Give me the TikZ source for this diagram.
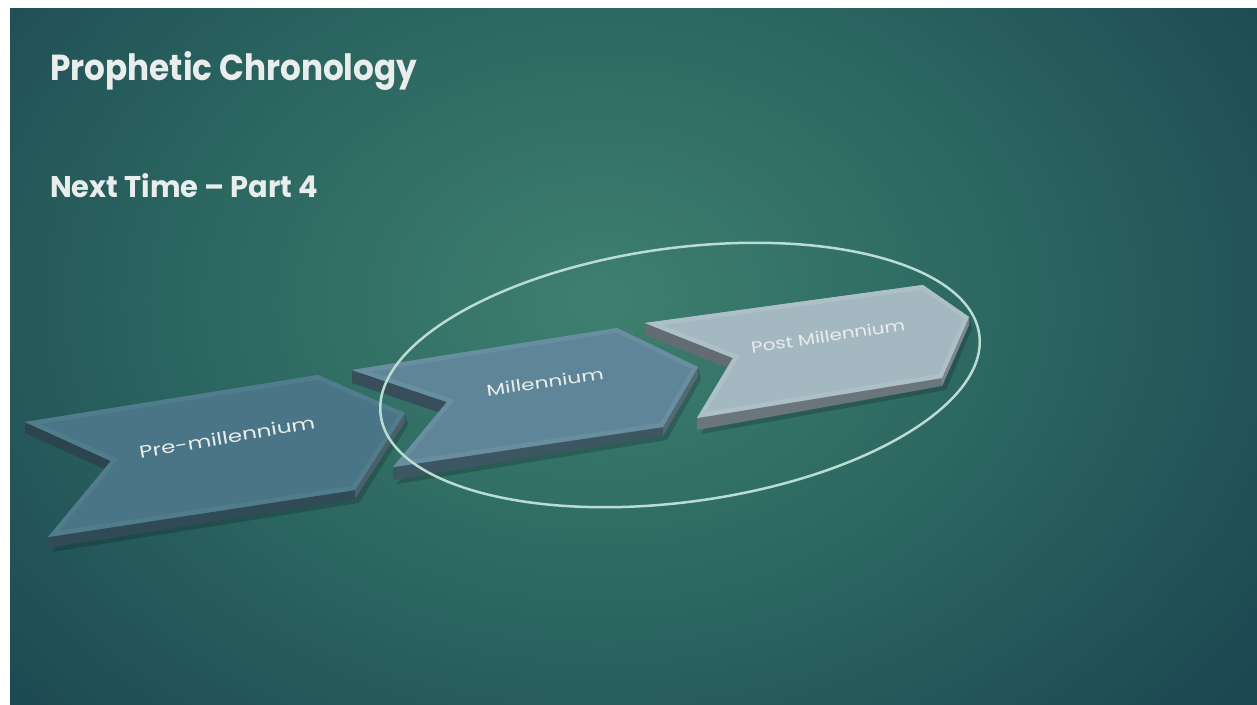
\documentclass[tikz,border=0pt]{standalone}
\usepackage{fontspec}
\setmainfont{Poppins}
\usepackage{graphicx}
\usetikzlibrary{calc}
\definecolor{bgin}{RGB}{62,128,111}
\definecolor{bgmid}{RGB}{42,100,96}
\definecolor{bgout}{RGB}{22,58,74}
\definecolor{titlec}{RGB}{233,237,236}
\definecolor{pretop}{RGB}{74,117,134}
\definecolor{preside}{RGB}{48,74,86}
\definecolor{prenotch}{RGB}{44,68,78}
\definecolor{prerim}{RGB}{80,124,140}
\definecolor{miltop}{RGB}{95,134,152}
\definecolor{milside}{RGB}{60,86,98}
\definecolor{milnotch}{RGB}{56,78,90}
\definecolor{milrim}{RGB}{104,142,159}
\definecolor{posttop}{RGB}{163,184,193}
\definecolor{postside}{RGB}{106,118,124}
\definecolor{postnotch}{RGB}{98,108,114}
\definecolor{postrim}{RGB}{173,192,200}
\definecolor{ringc}{RGB}{185,220,212}
\pgfdeclareradialshading{bgshade}{\pgfpoint{0bp}{0bp}}{color(0bp)=(bgin); color(11bp)=(bgmid); color(25bp)=(bgout); color(50bp)=(bgout)}
\newcommand\drawchev[4]{%
  \fill[black,opacity=0.18] ($(F)+(4,\thkL+3)$) -- ($(E)+(4,\thkL+4)$) -- ($(D)+(4,\thkR+4)$) -- ($(C)+(3,\thkR+3)$) -- (C) -- (D) -- (E) -- cycle;
  \fill[#3] (A) -- (F) -- ($(F)+(0,\thkL)$) -- ($(A)+(0,\thkL)$) -- cycle;
  \fill[#2] (C) -- (D) -- (E) -- ($(E)+(0,\thkL)$) -- ($(D)+(0,\thkR)$) -- ($(C)+(0,\thkR)$) -- cycle;
  \fill[#2!88!white] (C) -- (D) -- ($(D)+(0,\thkR)$) -- ($(C)+(0,\thkR)$) -- cycle;
  \begin{scope}
    \clip (A) -- (B) -- (C) -- (D) -- (E) -- (F) -- cycle;
    \fill[#1] (A) -- (B) -- (C) -- (D) -- (E) -- (F) -- cycle;
    \draw[#4, line width=9pt, line join=miter] (A) -- (B) -- (C) -- (D) -- (E) -- (F) -- cycle;
  \end{scope}
}
\tikzset{
  lbl/.style={inner sep=0pt, text=titlec},
  ttl/.style={inner sep=0pt, anchor=base west, text=titlec, font=\bfseries},
  ring/.style={draw=ringc, line width=2.5pt}
}
\begin{document}
\begin{tikzpicture}[x=1pt,y=-1pt]
\useasboundingbox (0,0) rectangle (1257,704);
\fill[white] (0,0) rectangle (1257,704);
\begin{scope}
  \clip (10,8) rectangle (1257,704);
  \fill[bgout] (10,8) rectangle (1257,704);
  \shade[shading=bgshade] (600,300) ellipse [x radius=1000, y radius=760];
\end{scope}

% titles
\node[ttl] (title) at (50,80) {\resizebox{367pt}{29pt}{Prophetic Chronology}};
\node[ttl] (sub) at (50,197) {\resizebox{268pt}{24pt}{Next Time -- Part 4}};

% Pre-millennium arrow
\begin{scope}
  \coordinate (A) at (25,422); \coordinate (B) at (318,375); \coordinate (C) at (405,413);
  \coordinate (D) at (355,490); \coordinate (E) at (48,537); \coordinate (F) at (111,461);
  \def\thkL{11}\def\thkR{9}
  \drawchev{pretop}{preside}{prenotch}{prerim}
\end{scope}
% Millennium arrow
\begin{scope}
  \coordinate (A) at (352,370); \coordinate (B) at (617,328); \coordinate (C) at (698,367);
  \coordinate (D) at (663,427); \coordinate (E) at (393,467); \coordinate (F) at (447,402);
  \def\thkL{13}\def\thkR{9}
  \drawchev{miltop}{milside}{milnotch}{milrim}
\end{scope}
% Post Millennium arrow
\begin{scope}
  \coordinate (A) at (645,323); \coordinate (B) at (923,285); \coordinate (C) at (969,317);
  \coordinate (D) at (942,378); \coordinate (E) at (697,418); \coordinate (F) at (733,358);
  \def\thkL{12}\def\thkR{8}
  \drawchev{posttop}{postside}{postnotch}{postrim}
\end{scope}

% labels
\node[lbl, rotate=9.7] (l1) at (227,437) {\resizebox{178pt}{13pt}{Pre-millennium}};
\node[lbl, rotate=8] (l2) at (545,382) {\resizebox{118pt}{12pt}{Millennium}};
\node[lbl, rotate=8.5] (l3) at (828,336) {\resizebox{155pt}{12pt}{Post Millennium}};

% ellipse
\draw[ring, rotate around={7.7:(680,375)}] (680,375) ellipse [x radius=302, y radius=127];
\end{tikzpicture}
\end{document}
